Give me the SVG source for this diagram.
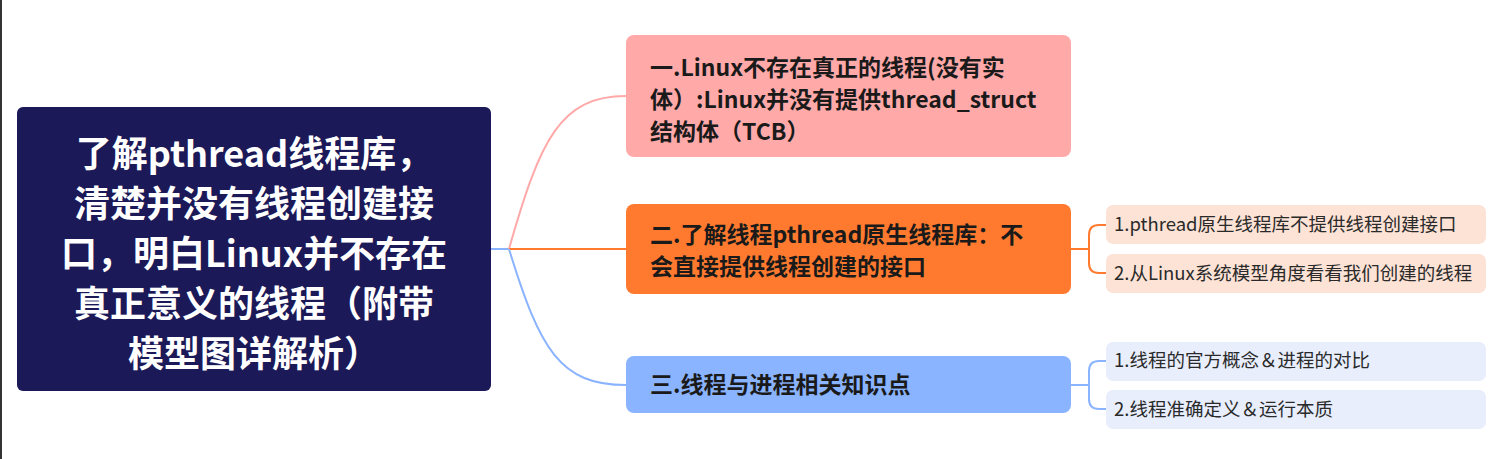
<svg xmlns="http://www.w3.org/2000/svg" width="1498" height="459" viewBox="0 0 1498 459">
<style>
text{font-family:"Noto Sans CJK SC","Noto Sans",sans-serif}
.root{font-size:36px;font-weight:bold;fill:#fff}
.b{font-size:23px;font-weight:bold;fill:#1a1a1a}
.s{font-size:18.5px;fill:#2a2a2a}
.c{fill:none;stroke-width:2}
</style>
<rect width="1498" height="459" fill="#fff"/>
<line x1="1" y1="0" x2="1" y2="459" stroke="#333" stroke-width="2"/>
<g id="connectors">
<path class="c" stroke="#8AB4FF" d="M491 249H509"/>
<path class="c" stroke="#FFA9A9" d="M509 249C540 140 560 96 626 96"/>
<path class="c" stroke="#FF7A2F" d="M509 249H626"/>
<path class="c" stroke="#8AB4FF" d="M509 249C540 350 560 385 626 385"/>
<path class="c" stroke="#FF7A2F" d="M1071 249H1089M1106 225H1099Q1089 225 1089 235V263Q1089 273 1099 273H1106"/>
<path class="c" stroke="#8AB4FF" d="M1071 385H1089M1106 361H1099Q1089 361 1089 371V399Q1089 409 1099 409H1106"/>
</g>
<g id="root">
<rect x="17" y="107" width="474" height="284" rx="6" fill="#1B1957"/>
<text class="root" text-anchor="middle" x="254" y="167">了解pthread线程库，</text>
<text class="root" text-anchor="middle" x="254" y="217">清楚并没有线程创建接</text>
<text class="root" text-anchor="middle" x="254" y="267">口，明白Linux并不存在</text>
<text class="root" text-anchor="middle" x="254" y="317">真正意义的线程（附带</text>
<text class="root" text-anchor="middle" x="254" y="367">模型图详解析）</text>
</g>
<g id="n1">
<rect x="626" y="35" width="445" height="122" rx="8" fill="#FFA9A9"/>
<text class="b" x="650" y="76">一.Linux不存在真正的线程(没有实</text>
<text class="b" x="650" y="108">体）:Linux并没有提供thread_struct</text>
<text class="b" x="650" y="140">结构体（TCB）</text>
</g>
<g id="n2">
<rect x="626" y="204" width="445" height="90" rx="8" fill="#FF7A2F"/>
<text class="b" x="650" y="243">二.了解线程pthread原生线程库：不</text>
<text class="b" x="650" y="275">会直接提供线程创建的接口</text>
</g>
<g id="n3">
<rect x="626" y="356" width="445" height="57" rx="8" fill="#8AB4FF"/>
<text class="b" x="650" y="393">三.线程与进程相关知识点</text>
</g>
<g id="n21"><rect x="1106" y="205" width="380" height="39" rx="7" fill="#FDE3D5"/><text class="s" x="1114" y="231">1.pthread原生线程库不提供线程创建接口</text></g>
<g id="n22"><rect x="1106" y="254" width="380" height="39" rx="7" fill="#FDE3D5"/><text class="s" x="1114" y="280">2.从Linux系统模型角度看看我们创建的线程</text></g>
<g id="n31"><rect x="1106" y="342" width="380" height="39" rx="7" fill="#E8EEFC"/><text class="s" x="1114" y="367">1.线程的官方概念＆进程的对比</text></g>
<g id="n32"><rect x="1106" y="390" width="380" height="39" rx="7" fill="#E8EEFC"/><text class="s" x="1114" y="416">2.线程准确定义＆运行本质</text></g>
</svg>
